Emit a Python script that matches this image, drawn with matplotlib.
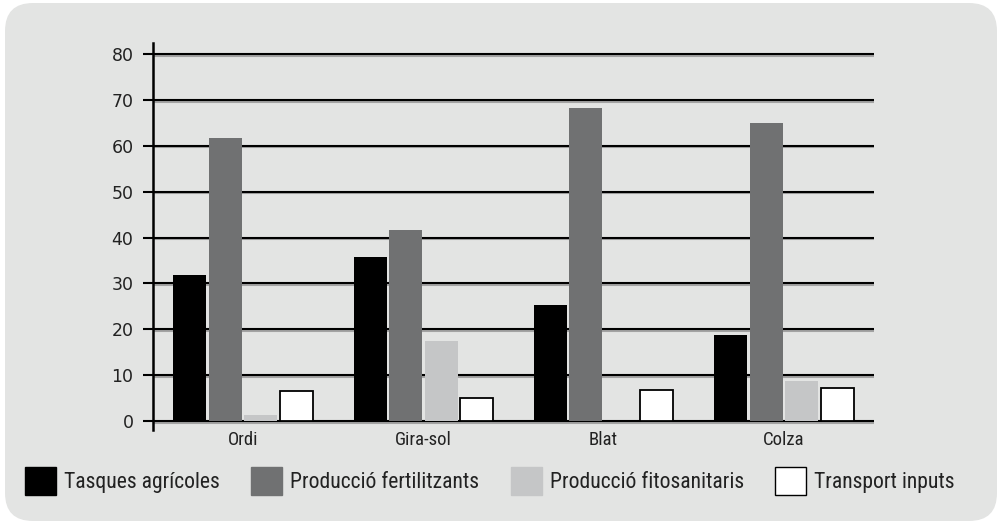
import matplotlib
matplotlib.use("Agg")
import matplotlib.pyplot as plt
import numpy as np
from matplotlib import font_manager as fm
from matplotlib.patches import FancyBboxPatch, Patch
import matplotlib.patheffects as pe

categories = ["Ordi", "Gira-sol", "Blat", "Colza"]
series_names = ["Tasques agrícoles", "Producció fertilitzants",
                "Producció fitosanitaris", "Transport inputs"]
tasques = [31.8, 35.7, 25.2, 18.7]
fertilitzants = [61.8, 41.6, 68.2, 64.9]
fitosanitaris = [1.3, 17.4, 0.0, 8.7]
transport = [6.6, 5.0, 6.7, 7.3]
yticks = [0, 10, 20, 30, 40, 50, 60, 70, 80]

colors = ["#000000", "#707172", "#c5c6c7", "#ffffff"]
edges = ["none", "none", "none", "#000000"]


def pick(names):
    for n in names:
        try:
            fm.findfont(fm.FontProperties(family=n), fallback_to_default=False)
            return n
        except Exception:
            pass
    return "DejaVu Sans"


narrow = pick(["Liberation Sans Narrow", "Roboto Condensed", "Liberation Sans"])

fig = plt.figure(figsize=(9.98, 5.25), dpi=100)
fig.patch.set_facecolor("white")

panel = FancyBboxPatch((0.05, 0.04), 9.92, 5.18,
                       boxstyle="round,pad=0,rounding_size=0.28",
                       transform=fig.dpi_scale_trans,
                       facecolor="#e3e4e3", edgecolor="none", zorder=-5)
fig.patches.append(panel)

ax = fig.add_axes([153 / 998, 1 - 430 / 525, (874 - 153) / 998, (430 - 43) / 525])
ax.set_facecolor("none")

x = np.arange(len(categories))
step = 0.197
width = 0.183
data = [tasques, fertilitzants, fitosanitaris, transport]
for i, (vals, c, ec) in enumerate(zip(data, colors, edges)):
    ax.bar(x + (i - 1.5) * step, vals, width, color=c,
           edgecolor=ec, linewidth=1.3 if ec != "none" else 0, zorder=3)

ax.set_xlim(-0.5, 3.5)
ax.set_ylim(-1.96, 82.4)

for yv in yticks:
    ax.axhline(yv, color="black", lw=1.5, zorder=2,
               path_effects=[pe.SimpleLineShadow(offset=(0, -1.2), shadow_color="#888888", alpha=0.7),
                             pe.Normal()])

ax.set_yticks(yticks)
ax.set_yticklabels([str(v) for v in yticks], fontsize=12.5, color="#222222",
                   family="DejaVu Sans")
ax.tick_params(axis="y", direction="out", length=7, width=1.5, pad=7, color="black")
ax.set_xticks(x)
ax.set_xticklabels(categories, fontsize=13.5, family=narrow, color="#222222")
ax.tick_params(axis="x", length=0, pad=1)

for s in ["top", "right", "bottom"]:
    ax.spines[s].set_visible(False)
ax.spines["left"].set_linewidth(1.8)
ax.spines["left"].set_zorder(4)

handles = [Patch(facecolor=c, edgecolor=(ec if ec != "none" else c), linewidth=1.0)
           for c, ec in zip(colors, edges)]
fs = 15.6
fig.legend(handles, series_names, loc="center left",
           bbox_to_anchor=(25 / 998, 1 - 481 / 525), ncol=4, frameon=False,
           prop={"family": narrow, "size": fs},
           handlelength=1.43, handleheight=1.66, handletextpad=0.37,
           columnspacing=1.45, borderpad=0, borderaxespad=0, labelcolor="#222222")

fig.savefig("out.png", dpi=100)
